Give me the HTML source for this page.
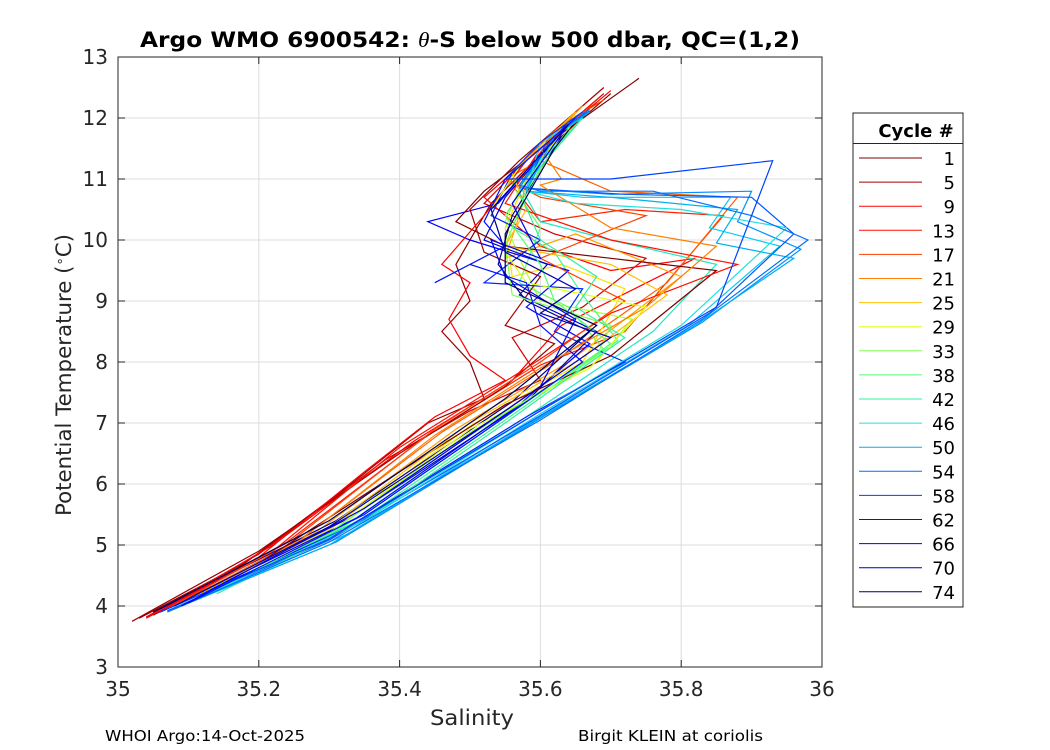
<!DOCTYPE html>
<html><head><meta charset="utf-8"><style>
body{margin:0;background:#fff;}
svg{display:block;font-family:"DejaVu Sans","Liberation Sans",sans-serif;}
</style></head><body>
<svg id="chart" width="1050" height="750">
<rect x="0" y="0" width="1050" height="750" fill="#fff"/>
<g id="grid"></g>
<g id="lines"></g>
<rect x="118" y="57" width="704" height="610" fill="none" stroke="#262626" stroke-width="1"/>
<g id="ticks"></g>
<text x="140" y="47" textLength="660" lengthAdjust="spacingAndGlyphs" font-size="21" font-weight="bold" fill="#000">Argo WMO 6900542: <tspan font-style="italic" font-weight="normal" font-family="Liberation Serif,serif">θ</tspan>-S below 500 dbar,  QC=(1,2)</text>
<text x="430" y="725" textLength="84" lengthAdjust="spacingAndGlyphs" font-size="21" fill="#262626">Salinity</text>
<text transform="translate(71,516) rotate(-90)" textLength="282" lengthAdjust="spacingAndGlyphs" font-size="21" fill="#262626">Potential Temperature (<tspan baseline-shift="super" font-size="13">∘</tspan>C)</text>
<text x="105" y="741" textLength="200" lengthAdjust="spacingAndGlyphs" font-size="15" fill="#000">WHOI Argo:14-Oct-2025</text>
<text x="578" y="741" textLength="185" lengthAdjust="spacingAndGlyphs" font-size="15" fill="#000">Birgit KLEIN at coriolis</text>
<g id="legend"></g>
</svg>
<script>
const xTicks=[35,35.2,35.4,35.6,35.8,36];
const xTickLabels=["35","35.2","35.4","35.6","35.8","36"];
const yTicks=[3,4,5,6,7,8,9,10,11,12,13];
const cycles=["1","5","9","13","17","21","25","29","33","38","42","46","50","54","58","62","66","70","74"];
const colors=["#7f0000","#a00000","#ff0000","#ff1000","#ff4000","#ff8000","#ffc000","#e0ff10","#80ff50","#50ff70","#30f0a0","#20e0e0","#00b0f0","#0070ff","#0040ff","#0010ff","#0000ee","#0000b0","#000060"];
const p1=[[35.05,3.85],[35.2,4.7],[35.4,6.2],[35.55,7.3],[35.7,8.1],[35.85,9.5],[35.7,9.7],[35.55,9.9],[35.48,10.3],[35.52,10.8],[35.6,11.5],[35.74,12.65]];
const p5=[[35.02,3.75],[35.2,4.9],[35.4,6.5],[35.55,7.6],[35.62,8.3],[35.55,8.6],[35.6,9.4],[35.52,9.8],[35.5,10.5],[35.57,11.3],[35.69,12.5]];
const p9=[[35.04,3.8],[35.2,4.8],[35.35,6.2],[35.45,7.1],[35.55,7.7],[35.5,8.1],[35.47,8.7],[35.5,9.3],[35.46,9.6],[35.52,10.4],[35.58,11.3],[35.7,12.45]];
const p13=[[35.06,3.9],[35.22,4.9],[35.4,6.6],[35.58,7.9],[35.7,8.8],[35.88,9.6],[35.7,10.0],[35.55,10.6],[35.6,11.5],[35.68,12.3]];
const p17=[[35.07,3.95],[35.25,5.1],[35.45,6.9],[35.6,8.0],[35.72,9.0],[35.6,9.7],[35.75,10.4],[35.6,10.7],[35.55,11.0],[35.62,11.8],[35.69,12.3]];
const p21=[[35.08,4.0],[35.25,5.0],[35.45,6.8],[35.6,7.9],[35.75,8.9],[35.85,9.9],[35.7,10.2],[35.6,10.9],[35.63,11.0],[35.6,11.5],[35.66,12.2]];
const p25=[[35.1,4.1],[35.3,5.3],[35.5,7.0],[35.65,8.0],[35.78,9.1],[35.7,9.6],[35.55,9.9],[35.58,10.5],[35.56,11.1],[35.65,12.1]];
const p29=[[35.11,4.1],[35.3,5.2],[35.5,6.9],[35.67,7.9],[35.75,8.9],[35.58,9.3],[35.55,9.8],[35.53,10.5],[35.57,11.2],[35.65,12.0]];
const p33=[[35.12,4.15],[35.3,5.2],[35.5,6.8],[35.68,8.1],[35.7,8.6],[35.56,9.1],[35.55,9.9],[35.58,10.8],[35.65,12.0]];
const p38=[[35.13,4.2],[35.35,5.5],[35.55,7.1],[35.7,8.3],[35.62,9.0],[35.6,9.6],[35.55,10.4],[35.6,11.3],[35.66,12.0]];
const p42=[[35.14,4.2],[35.35,5.4],[35.55,7.0],[35.72,8.4],[35.65,8.9],[35.68,9.4],[35.6,10.0],[35.57,10.8],[35.66,12.0]];
const p46=[[35.1,4.05],[35.35,5.4],[35.6,7.2],[35.8,8.6],[35.95,10.2],[35.8,10.5],[35.65,10.6],[35.58,10.8],[35.6,11.6],[35.66,12.0]];
const p50=[[35.08,3.95],[35.3,5.0],[35.6,7.1],[35.82,8.6],[35.96,9.7],[35.85,9.95],[35.88,10.5],[35.7,10.7],[35.58,10.8],[35.62,11.7],[35.67,12.1]];
const p54=[[35.07,3.9],[35.3,5.05],[35.6,7.05],[35.83,8.7],[35.98,10.0],[35.9,10.4],[35.76,10.8],[35.6,10.8],[35.57,10.9],[35.62,11.7],[35.67,12.15]];
const p58=[[35.06,3.9],[35.3,5.1],[35.6,7.2],[35.85,8.9],[35.93,11.3],[35.7,11.0],[35.55,11.0],[35.6,11.6],[35.66,12.1]];
const p62=[[35.1,4.05],[35.35,5.5],[35.55,7.1],[35.66,8.0],[35.6,8.6],[35.58,9.3],[35.5,9.6],[35.45,9.3],[35.55,9.9],[35.52,10.3],[35.55,11.0],[35.65,12.0]];
const p66=[[35.09,4.0],[35.35,5.6],[35.6,7.6],[35.65,8.7],[35.55,9.4],[35.53,10.0],[35.6,9.7],[35.56,10.6],[35.64,11.9]];
const p70=[[35.08,4.0],[35.3,5.3],[35.55,7.2],[35.7,8.4],[35.6,8.8],[35.65,9.2],[35.55,9.8],[35.53,10.5],[35.64,11.9]];
const p74=[[35.05,3.9],[35.3,5.4],[35.55,7.4],[35.68,8.6],[35.55,9.3],[35.55,10.1],[35.62,11.5],[35.64,11.8]];
// additional intermediate cycles
const extraCycles=["3","7","11","15","19","23","27","31","36","40","44","48","52","56","60","64","68","72"];
const extraColors=["#900000","#d00000","#ff0000","#ff2000","#ff6000","#ffa000","#ffe000","#b0ff30","#60ff60","#40f890","#20e8c0","#10c8f0","#0090ff","#0058ff","#0028ff","#0000ff","#0000d0","#000090"];
const e3=[[35.03,3.8],[35.18,4.7],[35.32,5.9],[35.44,7.0],[35.52,7.4],[35.5,8.0],[35.46,8.5],[35.5,9.0],[35.48,9.6],[35.53,10.6],[35.6,11.4],[35.7,12.4]];
const e7=[[35.04,3.82],[35.2,4.85],[35.38,6.4],[35.5,7.2],[35.6,7.7],[35.56,8.4],[35.66,8.9],[35.75,9.7],[35.62,10.1],[35.52,10.6],[35.58,11.3],[35.69,12.4]];
const e11=[[35.05,3.85],[35.22,5.0],[35.42,6.7],[35.56,7.7],[35.63,8.6],[35.82,9.7],[35.7,9.5],[35.6,9.9],[35.52,10.7],[35.6,11.5],[35.68,12.3]];
const e15=[[35.06,3.9],[35.24,5.05],[35.44,6.8],[35.6,7.95],[35.72,8.5],[35.86,10.4],[35.72,10.5],[35.6,10.3],[35.56,10.9],[35.62,11.7],[35.68,12.3]];
const e19=[[35.08,4.0],[35.26,5.1],[35.46,6.85],[35.62,8.0],[35.78,9.3],[35.88,10.7],[35.7,10.8],[35.6,11.3],[35.55,11.0],[35.62,11.8],[35.68,12.25]];
const e23=[[35.09,4.05],[35.28,5.2],[35.48,6.9],[35.64,8.0],[35.8,9.4],[35.65,10.1],[35.55,9.7],[35.57,10.4],[35.58,11.0],[35.65,12.1]];
const e27=[[35.1,4.1],[35.3,5.25],[35.5,6.95],[35.66,8.0],[35.72,9.2],[35.63,9.6],[35.56,9.4],[35.55,10.2],[35.58,11.0],[35.65,12.05]];
const e31=[[35.11,4.12],[35.3,5.2],[35.5,6.85],[35.68,8.0],[35.73,8.7],[35.6,9.0],[35.57,9.7],[35.55,10.3],[35.58,11.1],[35.65,12.0]];
const e36=[[35.12,4.15],[35.32,5.3],[35.52,6.9],[35.69,8.2],[35.64,8.9],[35.57,9.3],[35.6,10.2],[35.56,10.9],[35.65,12.0]];
const e40=[[35.13,4.2],[35.35,5.45],[35.55,7.05],[35.71,8.35],[35.66,9.1],[35.62,9.8],[35.56,10.2],[35.6,11.2],[35.66,12.0]];
const e44=[[35.12,4.15],[35.36,5.5],[35.58,7.1],[35.76,8.5],[35.85,9.6],[35.7,10.0],[35.6,10.3],[35.57,10.9],[35.66,12.0]];
const e48=[[35.09,4.0],[35.33,5.2],[35.6,7.15],[35.81,8.6],[35.94,9.9],[35.84,10.2],[35.87,10.7],[35.66,10.7],[35.58,10.8],[35.61,11.6],[35.66,12.05]];
const e52=[[35.08,3.95],[35.31,5.05],[35.6,7.08],[35.83,8.65],[35.97,9.85],[35.88,10.3],[35.9,10.8],[35.7,10.75],[35.57,10.85],[35.62,11.7],[35.67,12.1]];
const e56=[[35.07,3.92],[35.3,5.08],[35.6,7.12],[35.84,8.8],[35.96,10.1],[35.9,10.7],[35.72,10.75],[35.58,10.85],[35.61,11.65],[35.67,12.12]];
const e60=[[35.06,3.9],[35.32,5.25],[35.58,7.1],[35.72,8.0],[35.62,8.5],[35.66,9.2],[35.52,9.3],[35.6,10.0],[35.53,10.4],[35.56,11.1],[35.65,12.0]];
const e64=[[35.08,4.0],[35.34,5.45],[35.57,7.3],[35.67,8.3],[35.58,8.9],[35.64,9.5],[35.5,10.0],[35.44,10.3],[35.54,10.6],[35.64,11.95]];
const e68=[[35.08,4.0],[35.33,5.45],[35.58,7.35],[35.68,8.5],[35.57,9.1],[35.61,9.6],[35.52,10.0],[35.55,10.7],[35.64,11.9]];
const e72=[[35.06,3.95],[35.31,5.4],[35.56,7.35],[35.67,8.5],[35.58,9.0],[35.54,9.6],[35.56,10.4],[35.63,11.7]];
const profiles=[p1,p5,p9,p13,p17,p21,p25,p29,p33,p38,p42,p46,p50,p54,p58,p62,p66,p70,p74];
const extraProfiles=[e3,e7,e11,e15,e19,e23,e27,e31,e36,e40,e44,e48,e52,e56,e60,e64,e68,e72];

const NS="http://www.w3.org/2000/svg";
const X0=118,X1=822,Y0=667,Y1=57;
const sx=s=>X0+(s-35)/(36-35)*(X1-X0);
const sy=t=>Y0-(t-3)/(13-3)*(Y0-Y1);
function mk(tag,attrs,parent){const e=document.createElementNS(NS,tag);for(const k in attrs)e.setAttribute(k,attrs[k]);parent.appendChild(e);return e;}
const grid=document.getElementById('grid'),ticks=document.getElementById('ticks'),lines=document.getElementById('lines'),leg=document.getElementById('legend');
xTicks.forEach((v,i)=>{
  const x=sx(v);
  const g=mk('line',{x1:x,x2:x,y1:Y1,y2:Y0,stroke:'#dcdcdc','stroke-width':1},grid);
  
  
  const t=mk('line',{x1:x,x2:x,y1:Y0,y2:Y0-7,stroke:'#262626'},ticks);
  
  
  const t2=mk('line',{x1:x,x2:x,y1:Y1,y2:Y1+7,stroke:'#262626'},ticks);
  
  
  const l=mk('text',{x:x,y:Y0+29,'text-anchor':'middle','font-size':20,fill:'#262626'},ticks);
  l.textContent=xTickLabels[i];
  
  
});
yTicks.forEach(v=>{
  const y=sy(v);
  const g=mk('line',{x1:X0,x2:X1,y1:y,y2:y,stroke:'#dcdcdc','stroke-width':1},grid);
  
  
  const t=mk('line',{x1:X0,x2:X0+7,y1:y,y2:y,stroke:'#262626'},ticks);
  
  
  const t2=mk('line',{x1:X1,x2:X1-7,y1:y,y2:y,stroke:'#262626'},ticks);
  
  
  const l=mk('text',{x:X0-10,y:y+7,'text-anchor':'end','font-size':20,fill:'#262626'},ticks);
  l.textContent=String(v);
  
  
});
function drawProfile(p,col,name){
  const d=p.map((q,j)=>(j?'L':'M')+sx(q[0]).toFixed(1)+','+sy(q[1]).toFixed(1)).join(' ');
  const e=mk('path',{d:d,fill:'none',stroke:col,'stroke-width':1.2},lines);
  
  
}
extraProfiles.forEach((p,i)=>drawProfile(p,extraColors[i],'profile-cycle-'+extraCycles[i]));
profiles.forEach((p,i)=>drawProfile(p,colors[i],'profile-cycle-'+cycles[i]));
const bx=mk('rect',{x:853,y:113,width:110,height:494,fill:'#fff',stroke:'#262626'},leg);


const lt=mk('text',{x:916,y:137,'text-anchor':'middle','font-size':18,'font-weight':'bold',fill:'#000'},leg);
lt.textContent='Cycle #';


const sep=mk('line',{x1:853,x2:963,y1:143.5,y2:143.5,stroke:'#262626'},leg);


cycles.forEach((c,i)=>{
  const y=158+i*24.1;
  const g=mk('g',{},leg);
  
  
  mk('line',{x1:859,x2:922,y1:y,y2:y,stroke:colors[i],'stroke-width':1},g);
  const t=mk('text',{x:955,y:y+7,'text-anchor':'end','font-size':18,fill:'#000'},g);
  t.textContent=c;
});
</script>
</body></html>
